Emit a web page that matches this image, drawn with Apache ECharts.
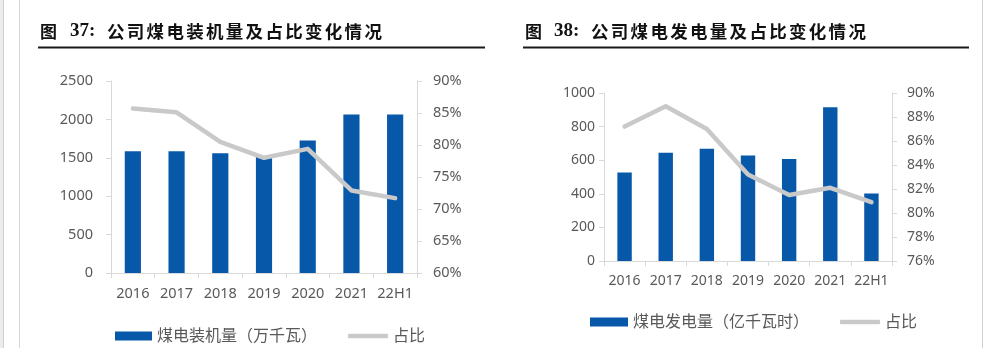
<!DOCTYPE html>
<html>
<head>
<meta charset="utf-8">
<script src="https://cdn.jsdelivr.net/npm/echarts@6/dist/echarts.min.js"></script>
<style>
html,body{margin:0;padding:0;background:#fff;}
#c{width:984px;height:348px;}
</style>
</head>
<body>
<div id="c"></div>
<script>
// ---- data ----
const categories = ['2016', '2017', '2018', '2019', '2020', '2021', '22H1'];
const capacity = [1585, 1585, 1560, 1510, 1725, 2065, 2065];          // 万千瓦
const capacityShare = [85.7, 85.1, 80.5, 78.0, 79.4, 72.9, 71.7];     // %
const generation = [527, 645, 668, 628, 607, 915, 402];               // 亿千瓦时
const generationShare = [87.2, 88.9, 87.0, 83.2, 81.5, 82.1, 80.9];   // %
const leftTicksMain = [0, 2500, 500];
const leftTicksPct = [60, 90, 5];
const rightTicksMain = [0, 1000, 200];
const rightTicksPct = [76, 90, 2];
const title1 = { fig: '图', num: '37:', text: '公司煤电装机量及占比变化情况' };
const title2 = { fig: '图', num: '38:', text: '公司煤电发电量及占比变化情况' };
const legend1 = ['煤电装机量（万千瓦）', '占比'];
const legend2 = ['煤电发电量（亿千瓦时）', '占比 '];

// ---- styles ----
const BLUE = '#0758A9';
const GRAY = '#C9C9C9';
const AXIS = '#D9D9D9';
const LBL = '#595959';
const FONT = '"Noto Sans", "Noto Sans CJK SC", sans-serif';

const chart = echarts.init(document.getElementById('c'), null, { renderer: 'canvas' });

function titleGraphics(t, figX, numX, textX, lineX1, lineX2) {
  const g = [];
  const y = 33;
  g.push({ type: 'text', left: figX, top: y - 10, style: { text: t.fig, font: 'bold 17px "Noto Sans CJK SC"', fill: '#111' } });
  g.push({ type: 'text', left: numX, top: y - 11, style: { text: t.num, font: 'bold 19px "Liberation Serif"', fill: '#111' } });
  t.text.split('').forEach((ch, i) => {
    g.push({ type: 'text', left: textX + i * 19.8, top: y - 10.5, style: { text: ch, font: 'bold 17.5px "Noto Sans CJK SC"', fill: '#111' } });
  });
  g.push({ type: 'line', shape: { x1: lineX1, y1: 47.5, x2: lineX2, y2: 47.5 }, style: { stroke: '#1a1a1a', lineWidth: 1.8 } });
  return g;
}

const graphics = [
  { type: 'rect', shape: { x: 0, y: 0, width: 3, height: 348 }, style: { fill: '#ECECEC' } },
  { type: 'line', shape: { x1: 3.5, y1: 0, x2: 3.5, y2: 348 }, style: { stroke: '#D0D0D0', lineWidth: 1 } },
  { type: 'line', shape: { x1: 19.5, y1: 0, x2: 19.5, y2: 348 }, style: { stroke: '#D6D6D6', lineWidth: 1 } },
  { type: 'line', shape: { x1: 982.5, y1: 0, x2: 982.5, y2: 348 }, style: { stroke: '#D0D0D0', lineWidth: 1 } }
].concat(
  titleGraphics(title1, 40, 70, 107, 38, 485),
  titleGraphics(title2, 525, 554, 591, 523, 969)
);

function valAxis(gridIndex, ticks, pct, position, margin, fs) {
  return {
    type: 'value', gridIndex: gridIndex, position: position,
    min: ticks[0], max: ticks[1], interval: ticks[2],
    axisLine: { show: true, lineStyle: { color: AXIS, width: 1 } },
    axisTick: { show: true, length: 5, lineStyle: { color: AXIS } },
    splitLine: { show: false },
    axisLabel: { color: LBL, fontSize: fs, fontFamily: FONT, margin: margin,
      formatter: function (v) { return String(v) + (pct ? '%' : ''); } }
  };
}

function catAxis(gridIndex, margin, fs) {
  return {
    type: 'category', gridIndex: gridIndex, data: categories,
    axisLine: { show: true, lineStyle: { color: AXIS, width: 1 } },
    axisTick: { show: true, length: 5, lineStyle: { color: AXIS } },
    axisLabel: { color: LBL, fontSize: fs, fontFamily: FONT, margin: margin, interval: 0 }
  };
}

function legendItem(name, left, top, w, h, icon) {
  return {
    left: left, top: top, itemWidth: w, itemHeight: h, itemGap: 0,
    textStyle: { color: LBL, fontSize: 16, fontFamily: FONT },
    data: [{ name: name, icon: icon }]
  };
}

const option = {
  animation: false,
  backgroundColor: '#fff',
  textStyle: { fontFamily: FONT },
  graphic: graphics,
  grid: [
    { left: 111, top: 81, width: 306, height: 192 },
    { left: 604, top: 93, width: 288, height: 168 }
  ],
  xAxis: [catAxis(0, 14, 14.5), catAxis(1, 13, 14)],
  yAxis: [
    valAxis(0, leftTicksMain, false, 'left', 18, 14.5),
    valAxis(0, leftTicksPct, true, 'right', 16, 14.5),
    valAxis(1, rightTicksMain, false, 'left', 9, 14),
    valAxis(1, rightTicksPct, true, 'right', 15, 14)
  ],
  legend: [
    legendItem(legend1[0], 110, 323, 37, 9, 'rect'),
    legendItem(legend1[1], 343, 323, 40, 4.5, 'roundRect'),
    legendItem(legend2[0], 585, 309, 38, 9, 'rect'),
    legendItem(legend2[1], 835, 309, 40, 4.5, 'roundRect')
  ],
  series: [
    { name: legend1[0], type: 'bar', xAxisIndex: 0, yAxisIndex: 0, data: capacity, barWidth: '37%', itemStyle: { color: BLUE } },
    { name: legend1[1], type: 'line', xAxisIndex: 0, yAxisIndex: 1, data: capacityShare, symbol: 'none',
      lineStyle: { color: GRAY, width: 4.5, cap: 'round', join: 'round' }, itemStyle: { color: GRAY } },
    { name: legend2[0], type: 'bar', xAxisIndex: 1, yAxisIndex: 2, data: generation, barWidth: '35%', itemStyle: { color: BLUE } },
    { name: legend2[1], type: 'line', xAxisIndex: 1, yAxisIndex: 3, data: generationShare, symbol: 'none',
      lineStyle: { color: GRAY, width: 4.5, cap: 'round', join: 'round' }, itemStyle: { color: GRAY } }
  ]
};
chart.setOption(option);
</script>
</body>
</html>
